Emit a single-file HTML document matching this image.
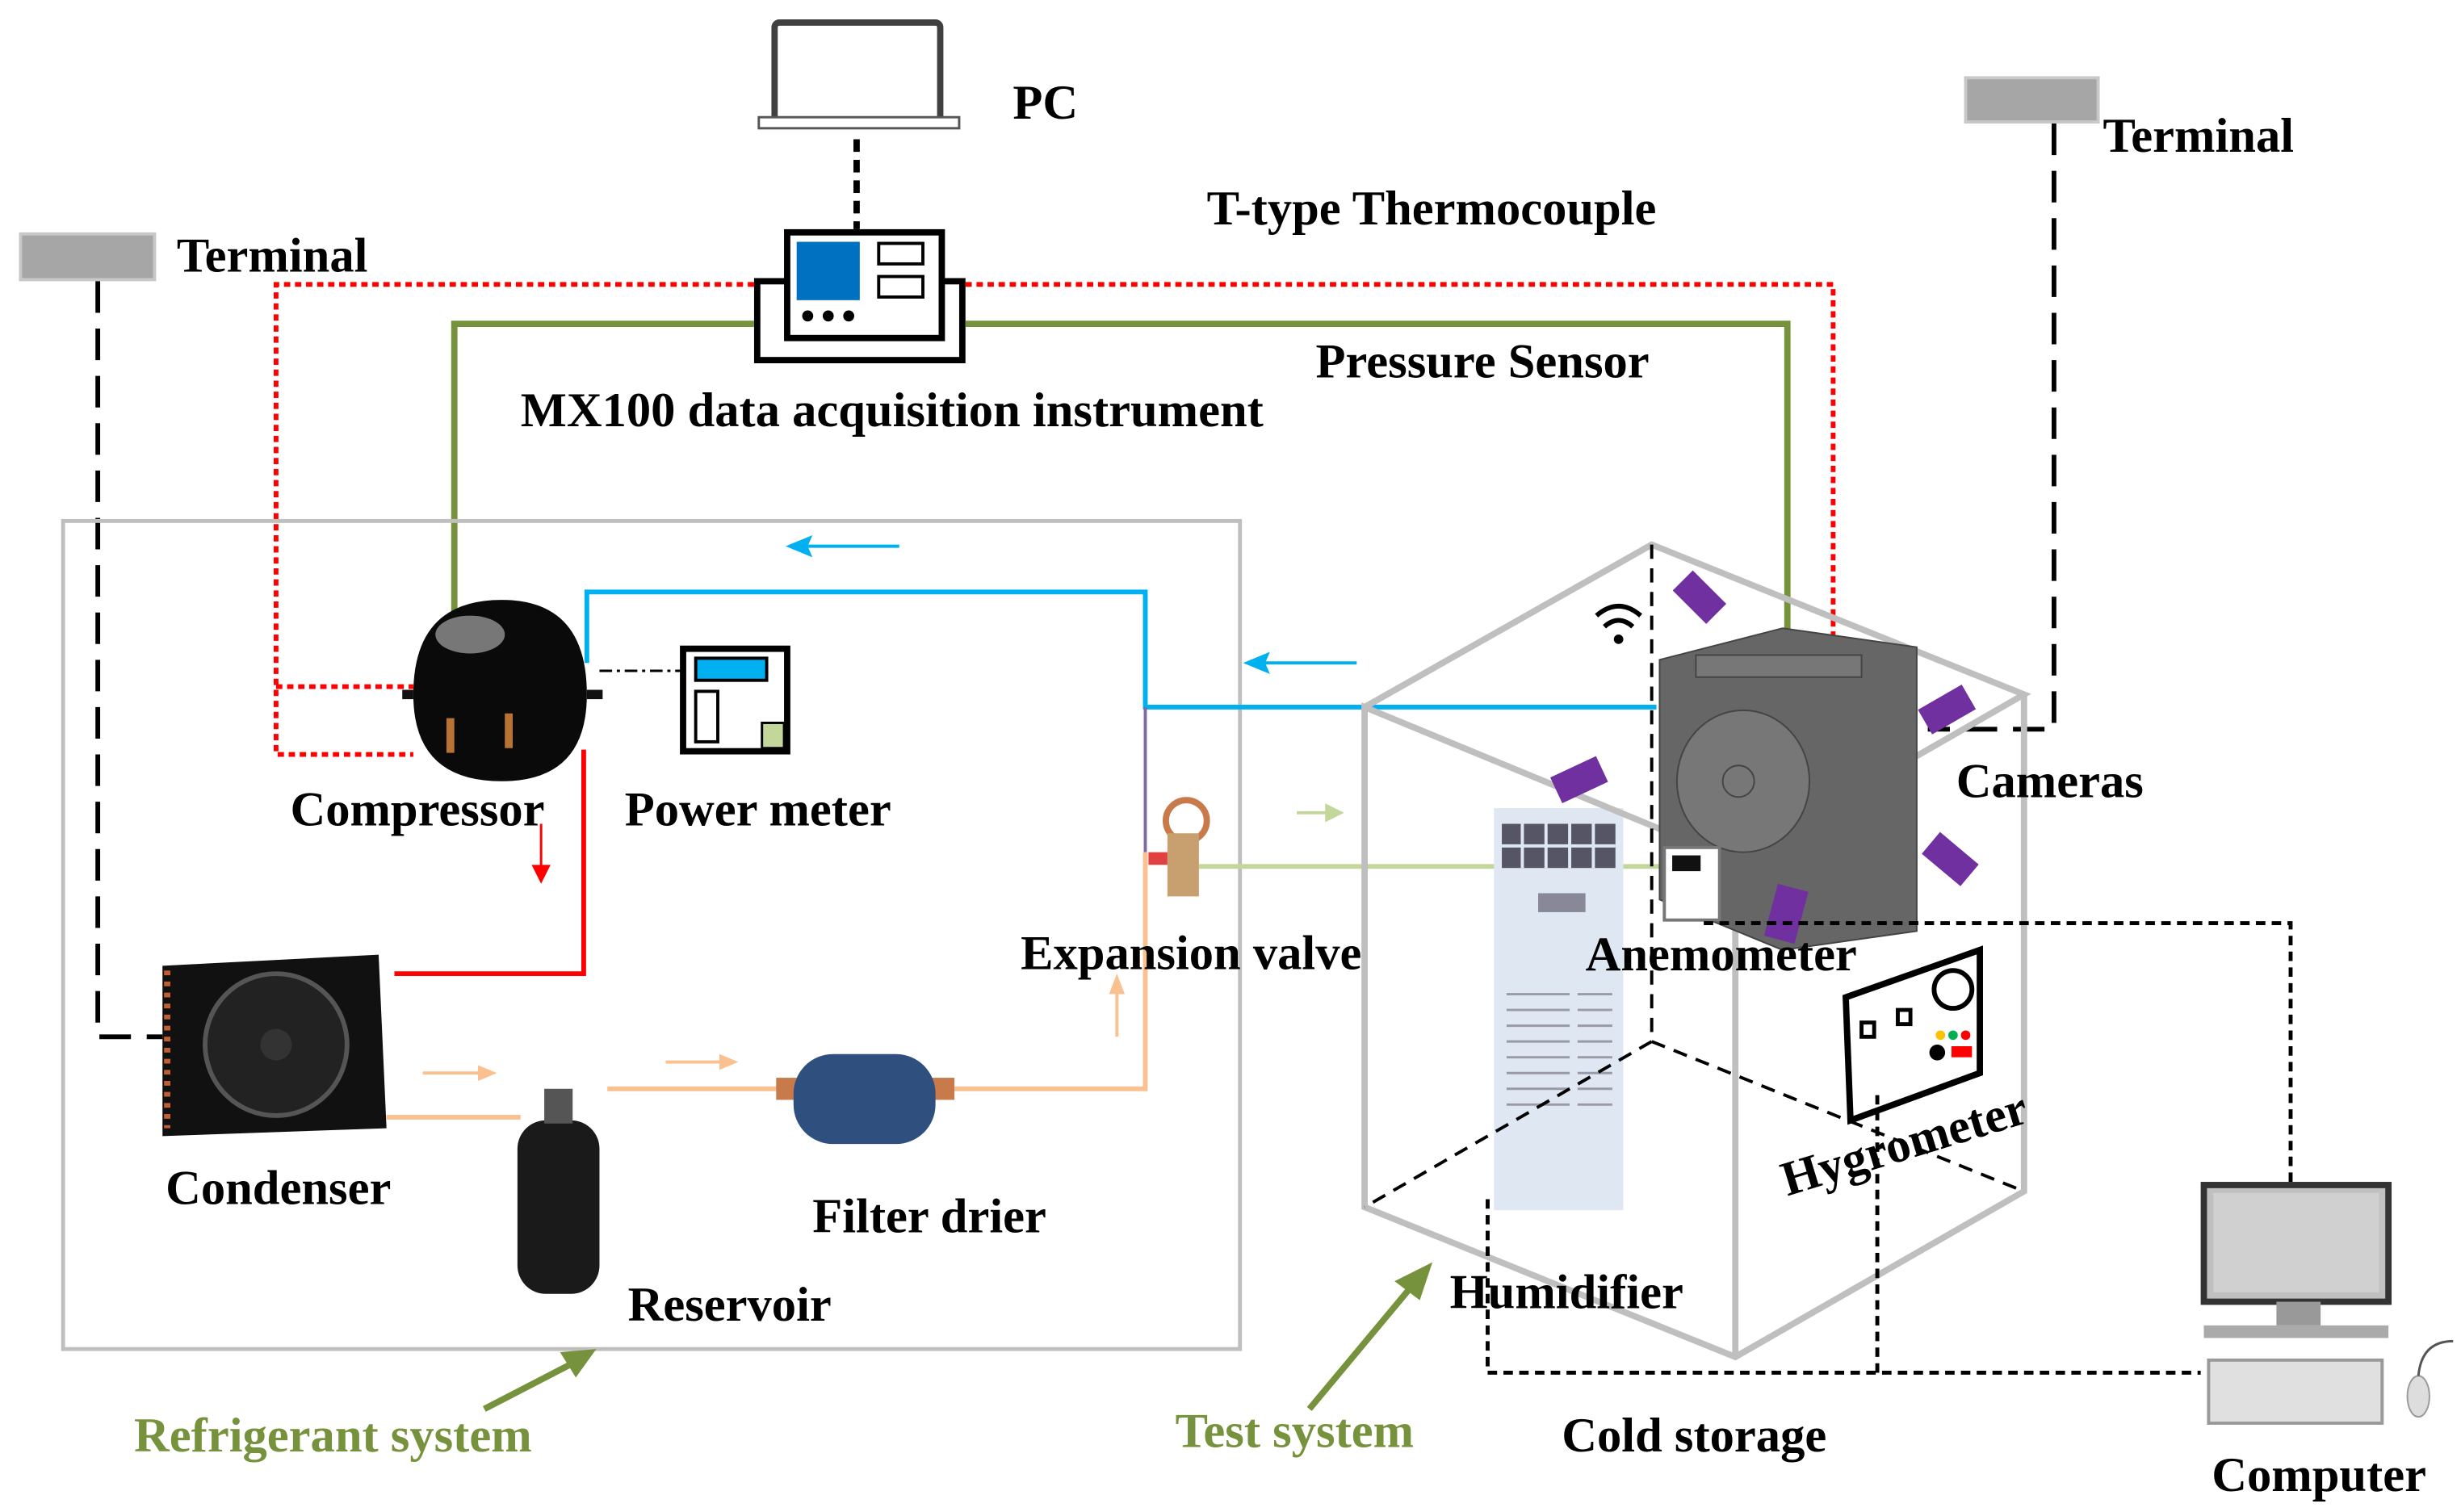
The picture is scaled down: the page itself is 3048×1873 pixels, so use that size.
<!DOCTYPE html>
<html><head><meta charset="utf-8"><style>
html,body{margin:0;padding:0;background:#fff;}
svg{display:block;}
text{font-family:"Liberation Serif",serif;font-weight:bold;}
</style></head><body>
<svg width="3048" height="1873" viewBox="0 0 1560 958" xmlns="http://www.w3.org/2000/svg">
<!-- Laptop -->
<rect x="491" y="14" width="105" height="62" rx="3" fill="#fff" stroke="#404040" stroke-width="4"/>
<rect x="481" y="74" width="127" height="7" fill="#fff" stroke="#555" stroke-width="1.5"/>
<text x="642" y="75" font-size="31">PC</text>
<line x1="543" y1="88" x2="543" y2="145" stroke="#000" stroke-width="4" stroke-dasharray="8,5"/>
<!-- MX100 -->
<rect x="480" y="178" width="130" height="50" fill="#fff" stroke="#000" stroke-width="4"/>
<rect x="499" y="147" width="98" height="67" fill="#fff" stroke="#000" stroke-width="4"/>
<rect x="505" y="153" width="40" height="37" fill="#0070c0"/>
<rect x="557" y="154" width="28" height="13" fill="none" stroke="#000" stroke-width="2"/>
<rect x="557" y="175" width="28" height="13" fill="none" stroke="#000" stroke-width="2"/>
<circle cx="512" cy="200" r="3.5"/><circle cx="525" cy="200" r="3.5"/><circle cx="538" cy="200" r="3.5"/>
<!-- red dotted -->
<polyline points="478,180 175,180 175,478 262,478" fill="none" stroke="#ff0000" stroke-width="3" stroke-dasharray="4,3"/>
<line x1="175" y1="435" x2="262" y2="435" stroke="#ff0000" stroke-width="3" stroke-dasharray="4,3"/>
<polyline points="612,180 1162,180 1162,452" fill="none" stroke="#ff0000" stroke-width="3" stroke-dasharray="4,3"/>
<!-- green -->
<polyline points="478,205 288,205 288,390" fill="none" stroke="#76923c" stroke-width="4"/>
<polyline points="612,205 1133,205 1133,435" fill="none" stroke="#76923c" stroke-width="4"/>
<text x="330" y="270" font-size="31">MX100 data acquisition instrument</text>
<text x="765" y="142" font-size="31">T-type Thermocouple</text>
<text x="834" y="239" font-size="31">Pressure Sensor</text>
<!-- terminals -->
<rect x="13" y="148" width="85" height="29" fill="#a6a6a6" stroke="#c8c8c8" stroke-width="2"/>
<text x="112" y="172" font-size="31">Terminal</text>
<polyline points="62,178 62,657 103,657" fill="none" stroke="#000" stroke-width="3" stroke-dasharray="20,10"/>
<rect x="1246" y="49" width="84" height="28" fill="#a6a6a6" stroke="#c8c8c8" stroke-width="2"/>
<text x="1333" y="96" font-size="31">Terminal</text>
<polyline points="1302,78 1302,462 1222,462" fill="none" stroke="#000" stroke-width="3" stroke-dasharray="20,10"/>
<!-- refrigerant box -->
<rect x="40" y="330" width="746" height="525" fill="none" stroke="#bfbfbf" stroke-width="2.5"/>
<line x1="570" y1="346" x2="510" y2="346" stroke="#00b0f0" stroke-width="2"/>
<path d="M498,346 L515,339 L512,346 L515,353 z" fill="#00b0f0"/>
<line x1="860" y1="420" x2="800" y2="420" stroke="#00b0f0" stroke-width="2"/>
<path d="M788,420 L805,413 L802,420 L805,427 z" fill="#00b0f0"/>
<polyline points="372,420 372,375 726,375 726,448 1050,448" fill="none" stroke="#00b0f0" stroke-width="3"/>
<line x1="726" y1="448" x2="726" y2="540" stroke="#7f6aa8" stroke-width="2"/>
<!-- compressor -->
<path d="M262,440 Q262,380 318,380 Q372,380 372,440 Q372,495 318,495 Q262,495 262,440 z" fill="#0a0a0a"/>
<ellipse cx="298" cy="402" rx="22" ry="12" fill="#777"/>
<path d="M255,440 L262,440 M372,440 L382,440" stroke="#111" stroke-width="6"/>
<rect x="283" y="455" width="5" height="22" fill="#b87333"/><rect x="320" y="452" width="5" height="22" fill="#b87333"/>
<line x1="380" y1="425" x2="432" y2="425" stroke="#000" stroke-width="1.5" stroke-dasharray="8,3,2,3"/>
<!-- power meter -->
<rect x="433" y="411" width="66" height="65" fill="#fff" stroke="#000" stroke-width="4"/>
<rect x="441" y="417" width="45" height="14" fill="#00b0f0" stroke="#000" stroke-width="2"/>
<rect x="441" y="438" width="14" height="32" fill="#fff" stroke="#000" stroke-width="2"/>
<rect x="483" y="458" width="14" height="16" fill="#c4d79b" stroke="#000" stroke-width="1.5"/>
<text x="184" y="523" font-size="31">Compressor</text>
<text x="396" y="523" font-size="31">Power meter</text>
<!-- red hot line -->
<polyline points="370,475 370,617 250,617" fill="none" stroke="#ff0000" stroke-width="3"/>
<line x1="343" y1="522" x2="343" y2="550" stroke="#ff0000" stroke-width="1.5"/>
<path d="M337,548 L349,548 L343,560 z" fill="#ff0000"/>
<!-- condenser -->
<path d="M103,612 L240,605 L245,715 L103,720 z" fill="#111"/>
<circle cx="175" cy="662" r="45" fill="#222" stroke="#555" stroke-width="3"/>
<circle cx="175" cy="662" r="10" fill="#333"/>
<line x1="106" y1="615" x2="106" y2="715" stroke="#c06030" stroke-width="4" stroke-dasharray="3,4"/>
<text x="105" y="763" font-size="31">Condenser</text>
<!-- orange -->
<polyline points="245,708 330,708" fill="none" stroke="#fac090" stroke-width="3"/>
<polyline points="385,690 495,690" fill="none" stroke="#fac090" stroke-width="3"/>
<polyline points="605,690 726,690 726,540" fill="none" stroke="#fac090" stroke-width="3"/>
<line x1="268" y1="680" x2="305" y2="680" stroke="#fac090" stroke-width="2"/><path d="M303,675 L315,680 L303,685z" fill="#fac090"/>
<line x1="422" y1="673" x2="458" y2="673" stroke="#fac090" stroke-width="2"/><path d="M456,668 L468,673 L456,678z" fill="#fac090"/>
<line x1="708" y1="657" x2="708" y2="628" stroke="#fac090" stroke-width="2"/><path d="M703,630 L708,617 L713,630z" fill="#fac090"/>
<!-- reservoir -->
<rect x="328" y="710" width="52" height="110" rx="18" fill="#1a1a1a"/>
<rect x="345" y="690" width="18" height="22" fill="#555"/>
<text x="398" y="837" font-size="31">Reservoir</text>
<!-- filter drier -->
<rect x="492" y="683" width="15" height="14" fill="#c87a4a"/>
<rect x="590" y="683" width="15" height="14" fill="#c87a4a"/>
<rect x="503" y="668" width="90" height="57" rx="25" fill="#2f4f7f"/>
<text x="515" y="781" font-size="31">Filter drier</text>
<!-- expansion valve -->
<circle cx="752" cy="520" r="13" fill="none" stroke="#c87a4a" stroke-width="4"/>
<rect x="740" y="528" width="20" height="40" fill="#c8a070"/>
<rect x="728" y="540" width="12" height="8" fill="#e04040"/>
<line x1="760" y1="549" x2="1130" y2="549" stroke="#c4d79b" stroke-width="3"/>
<line x1="822" y1="515" x2="842" y2="515" stroke="#c4d79b" stroke-width="2"/><path d="M840,509 L852,515 L840,521z" fill="#c4d79b"/>
<text x="647" y="614" font-size="31">Expansion valve</text>
<!-- humidifier -->
<rect x="947" y="512" width="82" height="255" fill="#dfe7f3"/>
<rect x="952" y="522" width="72" height="28" fill="#556"/>
<g stroke="#dfe7f3" stroke-width="2"><line x1="952" y1="536" x2="1024" y2="536"/><line x1="965" y1="522" x2="965" y2="550"/><line x1="980" y1="522" x2="980" y2="550"/><line x1="995" y1="522" x2="995" y2="550"/><line x1="1010" y1="522" x2="1010" y2="550"/></g>
<rect x="975" y="566" width="30" height="12" fill="#889"/>
<g stroke="#99a" stroke-width="1.5">
<line x1="955" y1="630" x2="995" y2="630"/><line x1="955" y1="640" x2="995" y2="640"/><line x1="955" y1="650" x2="995" y2="650"/><line x1="955" y1="660" x2="995" y2="660"/><line x1="955" y1="670" x2="995" y2="670"/><line x1="955" y1="680" x2="995" y2="680"/><line x1="955" y1="690" x2="995" y2="690"/><line x1="955" y1="700" x2="995" y2="700"/>
<line x1="1000" y1="630" x2="1022" y2="630"/><line x1="1000" y1="640" x2="1022" y2="640"/><line x1="1000" y1="650" x2="1022" y2="650"/><line x1="1000" y1="660" x2="1022" y2="660"/><line x1="1000" y1="670" x2="1022" y2="670"/><line x1="1000" y1="680" x2="1022" y2="680"/><line x1="1000" y1="690" x2="1022" y2="690"/><line x1="1000" y1="700" x2="1022" y2="700"/></g>
<!-- cube -->
<g fill="none" stroke="#bfbfbf" stroke-width="4">
<polyline points="865,448 1047,345 1283,440 1100,545 865,448 865,765 1100,860 1283,755 1283,440"/>
<line x1="1100" y1="545" x2="1100" y2="860"/>
</g>
<g stroke="#000" stroke-width="2" stroke-dasharray="9,6" fill="none">
<line x1="1047" y1="345" x2="1047" y2="660"/><line x1="1047" y1="660" x2="865" y2="765"/><line x1="1047" y1="660" x2="1283" y2="755"/>
</g>
<!-- wifi -->
<g fill="none" stroke="#000" stroke-width="3"><path d="M1012,390 Q1026,378 1040,390"/><path d="M1017,397 Q1026,389 1035,397"/></g>
<circle cx="1026" cy="405" r="3"/>
<!-- camera body -->
<path d="M1052,418 L1130,398 L1215,410 L1215,590 L1130,602 L1052,570 z" fill="#666" stroke="#444"/>
<rect x="1075" y="415" width="105" height="14" fill="#777" stroke="#444"/>
<ellipse cx="1105" cy="495" rx="42" ry="45" fill="#777" stroke="#444"/>
<circle cx="1102" cy="495" r="10" fill="none" stroke="#444"/>
<!-- purple cameras -->
<g fill="#7030a0">
<rect x="1062" y="370" width="30" height="18" transform="rotate(45 1078 379)"/>
<rect x="1218" y="440" width="32" height="18" transform="rotate(-30 1235 449)"/>
<rect x="985" y="485" width="32" height="18" transform="rotate(-25 1001 494)"/>
<rect x="1220" y="536" width="32" height="18" transform="rotate(40 1237 545)"/>
<rect x="1122" y="562" width="20" height="34" transform="rotate(15 1132 580)"/>
</g>
<!-- anemometer -->
<rect x="1055" y="537" width="35" height="46" fill="#fff" stroke="#777" stroke-width="2"/>
<rect x="1060" y="542" width="18" height="10" fill="#111"/>
<text x="1005" y="615" font-size="31">Anemometer</text>
<text x="1240" y="505" font-size="31">Cameras</text>
<!-- hygrometer -->
<path d="M1170,632 L1255,602 L1255,680 L1173,710 z" fill="#fff" stroke="#000" stroke-width="4"/>
<rect x="1180" y="648" width="8" height="9" fill="none" stroke="#000" stroke-width="2.5"/>
<rect x="1203" y="640" width="8" height="9" fill="none" stroke="#000" stroke-width="2.5"/>
<circle cx="1238" cy="627" r="12" fill="none" stroke="#000" stroke-width="3"/>
<circle cx="1230" cy="656" r="3" fill="#ffc000"/><circle cx="1238" cy="656" r="3" fill="#00b050"/><circle cx="1246" cy="656" r="3" fill="#f00"/>
<circle cx="1228" cy="667" r="5"/><rect x="1237" y="663" width="13" height="7" fill="#f00"/>
<text x="1133" y="758" font-size="31" transform="rotate(-17 1133 758)">Hygrometer</text>
<!-- dotted data lines -->
<g stroke="#000" stroke-width="2.5" stroke-dasharray="6,4" fill="none">
<polyline points="1080,585 1452,585 1452,750"/>
<polyline points="943,760 943,870 1395,870"/>
<line x1="1190" y1="870" x2="1190" y2="690"/>
</g>
<!-- computer -->
<rect x="1397" y="751" width="117" height="74" fill="#c0c0c0" stroke="#333" stroke-width="4"/>
<rect x="1403" y="756" width="105" height="63" fill="#d0d0d0"/>
<rect x="1443" y="825" width="28" height="15" fill="#999"/>
<rect x="1397" y="840" width="117" height="8" fill="#aaa"/>
<rect x="1400" y="862" width="110" height="40" fill="#e0e0e0" stroke="#999" stroke-width="2"/>
<ellipse cx="1533" cy="885" rx="7" ry="13" fill="#ddd" stroke="#999"/>
<path d="M1533,872 Q1535,850 1555,850" fill="none" stroke="#555" stroke-width="1.5"/>
<text x="1402" y="945" font-size="31">Computer</text>
<!-- labels -->
<text x="919" y="829" font-size="31">Humidifier</text>
<text x="990" y="920" font-size="31">Cold storage</text>
<text x="85" y="920" font-size="31" fill="#76923c">Refrigerant system</text>
<text x="745" y="917" font-size="31" fill="#76923c">Test system</text>
<line x1="307" y1="893" x2="365" y2="863" stroke="#76923c" stroke-width="4"/><path d="M378,855 L355,857 L365,873z" fill="#76923c"/>
<line x1="830" y1="893" x2="895" y2="815" stroke="#76923c" stroke-width="4"/><path d="M908,800 L884,812 L900,824z" fill="#76923c"/>
</svg>
</body></html>
